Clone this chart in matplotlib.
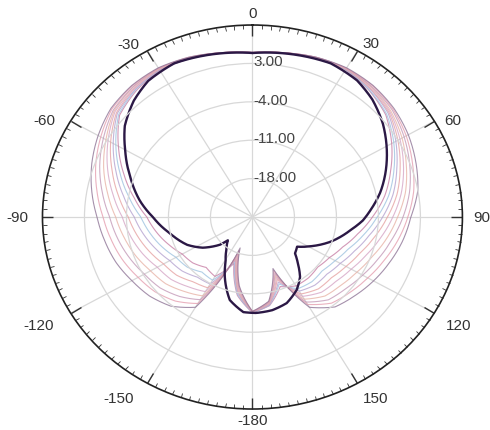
import numpy as np
import matplotlib.pyplot as plt
from matplotlib.path import Path
from matplotlib.patches import PathPatch

plt.rcParams['font.family'] = ['Liberation Sans', 'DejaVu Sans']

# === Datos del diagrama (dB) ===
r_min, r_max = -25.0, 10.0
r_ticks = [-18.0, -11.0, -4.0, 3.0]
theta_labels = ["0", "30", "60", "90", "120", "150", "-180", "-150", "-120", "-90", "-60", "-30"]

# curva principal (oscura)
ang_main = [0, 15, 25, 35, 43, 52, 61, 70, 78, 86, 92, 98, 109, 119, 126, 133, 138, 144,
            151, 160, 169, 178, 185, 194, 203, 209, 216, 224, 227, 236, 245, 258, 270,
            279, 290, 300, 308, 317, 325, 335, 345, 360]
gain_main = [4.9, 5.5, 5.9, 5.4, 4.3, 2.6, 0.6, -1.4, -3.2, -5.2, -6.6, -8.4, -11.2, -14.0,
             -15.8, -15.3, -13.7, -11.5, -9.8, -8.3, -7.7, -7.5, -7.6, -9.4, -13.2, -15.8,
             -17.6, -19.1, -17.6, -15.0, -13.0, -10.9, -8.4, -6.0, -3.3, -0.5, 2.0, 4.0,
             5.3, 5.9, 5.5, 4.9]

# curvas finas (barrido), cada 10 grados de 0 a 360
ang_sweep = list(range(0, 361, 10))
sweep_1 = [4.9, 5.3, 5.8, 6.0, 5.2, 4.0, 1.8, -0.5, -2.6, -5.0, -7.2, -9.0, -10.2, -10.8, -10.5,
           -10.5, -11.5, -8.6, -7.6, -10.5, -16.0, -12.5, -13.0, -12.0, -11.5, -10.2, -8.8, -7.4,
           -5.0, -2.2, 0.8, 3.9, 5.1, 5.9, 5.7, 5.3, 4.9]
sweep_2 = [4.9, 5.3, 5.8, 6.1, 5.3, 4.2, 2.2, 0.1, -1.9, -4.2, -6.2, -8.0, -9.1, -9.8, -9.6,
           -9.9, -12.0, -8.7, -7.6, -10.7, -16.4, -11.7, -11.9, -10.8, -10.3, -9.0, -7.7, -6.4,
           -4.1, -1.5, 1.3, 4.1, 5.3, 6.0, 5.7, 5.3, 4.9]
sweep_3 = [4.9, 5.3, 5.9, 6.1, 5.5, 4.5, 2.6, 0.6, -1.2, -3.3, -5.3, -6.9, -8.1, -8.8, -8.8,
           -9.4, -12.4, -8.8, -7.6, -11.0, -16.8, -10.9, -10.7, -9.7, -9.1, -7.9, -6.6, -5.3,
           -3.2, -0.8, 1.8, 4.4, 5.4, 6.0, 5.8, 5.3, 4.9]
sweep_4 = [4.9, 5.4, 5.9, 6.2, 5.6, 4.7, 3.0, 1.2, -0.5, -2.5, -4.3, -5.9, -7.0, -7.8, -7.9,
           -8.8, -12.9, -8.9, -7.7, -11.2, -17.1, -10.1, -9.6, -8.5, -7.9, -6.7, -5.5, -4.3,
           -2.3, -0.1, 2.3, 4.6, 5.6, 6.1, 5.8, 5.3, 4.9]
sweep_5 = [5.0, 5.4, 5.9, 6.2, 5.8, 4.9, 3.4, 1.8, 0.2, -1.6, -3.3, -4.8, -6.0, -6.8, -7.1,
           -8.3, -13.3, -9.0, -7.7, -11.4, -17.5, -9.3, -8.4, -7.3, -6.7, -5.5, -4.4, -3.3,
           -1.4, 0.7, 2.8, 4.9, 5.7, 6.2, 5.9, 5.4, 5.0]
sweep_6 = [5.0, 5.4, 5.9, 6.2, 5.9, 5.1, 3.8, 2.3, 0.9, -0.8, -2.3, -3.8, -4.9, -5.7, -6.2,
           -7.7, -13.7, -9.1, -7.7, -11.6, -17.9, -8.4, -7.3, -6.1, -5.4, -4.3, -3.3, -2.2,
           -0.5, 1.4, 3.2, 5.1, 5.9, 6.2, 5.9, 5.4, 5.0]
sweep_7 = [5.0, 5.4, 6.0, 6.3, 6.0, 5.4, 4.2, 2.9, 1.6, 0.1, -1.4, -2.7, -3.8, -4.7, -5.3,
           -7.1, -14.1, -9.2, -7.7, -11.9, -18.3, -7.6, -6.1, -4.9, -4.2, -3.2, -2.2, -1.2,
           0.4, 2.1, 3.7, 5.3, 6.0, 6.3, 5.9, 5.4, 5.0]
sweep_8 = [5.0, 5.4, 6.0, 6.3, 6.2, 5.6, 4.6, 3.4, 2.3, 0.9, -0.4, -1.7, -2.8, -3.7, -4.5,
           -6.6, -14.6, -9.3, -7.8, -12.1, -18.6, -6.8, -5.0, -3.8, -3.0, -2.0, -1.1, -0.1,
           1.3, 2.8, 4.2, 5.6, 6.2, 6.3, 6.0, 5.4, 5.0]
sweep_9 = [5.0, 5.4, 6.0, 6.4, 6.3, 5.8, 5.0, 4.0, 3.0, 1.4, 0.4, -0.7, -1.7, -2.7, -3.6,
           -6.0, -15.0, -9.4, -7.8, -12.3, -19.0, -6.0, -3.8, -2.6, -1.8, -0.8, 0.0, 0.9,
           2.2, 3.5, 4.7, 5.8, 6.3, 6.4, 6.0, 5.4, 5.0]

sweeps = [sweep_1, sweep_2, sweep_3, sweep_4, sweep_5, sweep_6, sweep_7, sweep_8, sweep_9]
sweep_colors = ['#c77fa5', '#9fc3e0', '#b5a3d0', '#e6a3a3', '#d6a6c6',
                '#e8b4a8', '#c49ab8', '#e59fb0', '#8f7597']


def curva(ax, ang, vals, **kw):
    # trazo en coordenadas polares; el transform polar curva cada tramo
    verts = np.column_stack([np.radians(ang), vals])
    ruta = Path(verts, _interpolation_steps=24)
    ax.add_patch(PathPatch(ruta, fill=False, capstyle='round', joinstyle='round', **kw))


# === Figura ===
fig = plt.figure(figsize=(4.9, 4.3), dpi=100)
ax = fig.add_axes([0.0867, 0.0488, 0.857, 0.893], projection='polar')
ax.set_aspect('auto')
ax.set_theta_zero_location('N')
ax.set_theta_direction(-1)

for vals, col in zip(sweeps, sweep_colors):
    curva(ax, ang_sweep, vals, edgecolor=col, lw=0.8, alpha=0.8)
curva(ax, ang_main, gain_main, edgecolor='#2b1845', lw=1.7)

ax.set_xlim(0, 2 * np.pi)
ax.set_ylim(r_min, r_max)

# rejilla
ax.set_yticks(r_ticks)
ax.set_yticklabels([])
ax.yaxis.grid(True, color='#d8d8d8', lw=0.9)
ax.xaxis.grid(False)
for a in range(0, 360, 30):
    ax.plot([np.radians(a), np.radians(a)], [r_min, r_max], color='#d8d8d8', lw=0.9, zorder=0)

ax.set_xticks(np.radians(np.arange(0, 360, 30)))
ax.set_xticklabels([])
ax.set_xticks(np.radians(np.arange(0, 360, 2.5)), minor=True)
ax.tick_params(axis='x', which='both', top=True, bottom=False, direction='in', color='#333333')
ax.tick_params(axis='x', which='major', length=8, width=1.0)
ax.tick_params(axis='x', which='minor', length=3, width=0.6)
ax.spines['polar'].set_color('#222222')
ax.spines['polar'].set_linewidth(1.2)

# etiquetas de ángulo
label_offsets = [(0, 11), (14, 7), (18, 0), (19, -1), (24, -13), (18, -16),
                 (0, -12), (-29, -16), (-32, -13), (-25, -1), (-26, 0), (-19, 6)]
for a, txt, off in zip(range(0, 360, 30), theta_labels, label_offsets):
    ax.annotate(txt, xy=(np.radians(a), r_max), xytext=off, textcoords='offset pixels',
                ha='center', va='center', fontsize=11, color='#333333', annotation_clip=False)

# etiquetas radiales
for v in r_ticks:
    ax.annotate(f"{v:.2f}", xy=(0, v), xytext=(1, 1), textcoords='offset pixels',
                ha='left', va='center', fontsize=11, color='#444444')

fig.savefig("out.png", dpi=100)
